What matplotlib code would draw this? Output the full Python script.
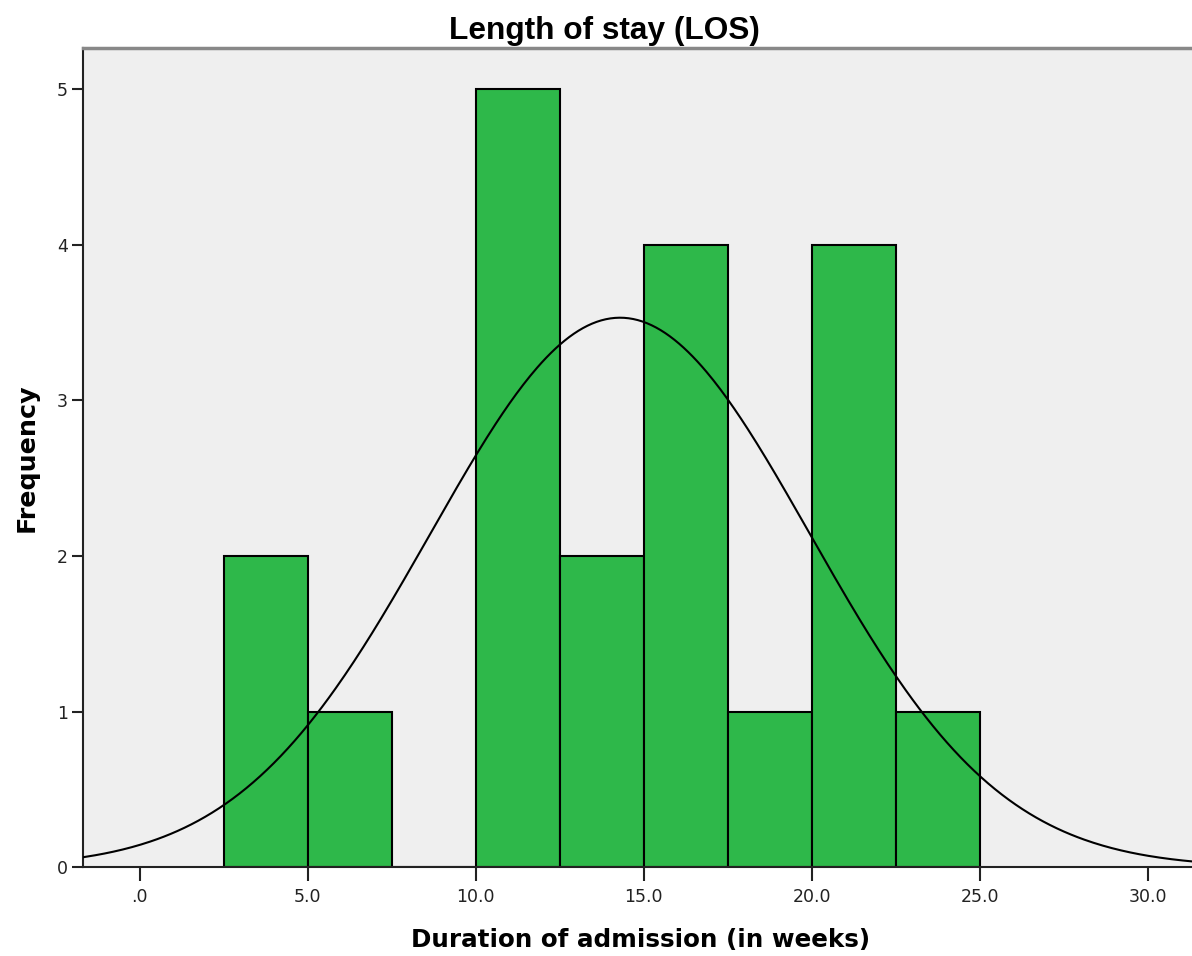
import numpy as np
import matplotlib.pyplot as plt

# histogram of LOS, bin width 2.5 weeks
bin_edges = [2.5, 5.0, 7.5, 10.0, 12.5, 15.0, 17.5, 20.0, 22.5, 25.0]
counts = [2, 1, 0, 5, 2, 4, 1, 4, 1]
n_total = 20
los_mean = 14.3
los_sd = 5.65

x_ticks = [0, 5, 10, 15, 20, 25, 30]
x_ticklabels = ['.0', '5.0', '10.0', '15.0', '20.0', '25.0', '30.0']
y_ticks = [0, 1, 2, 3, 4, 5]

fig = plt.figure(figsize=(11.92, 9.56), dpi=100)
ax = fig.add_axes([0.070, 0.0928, 0.935, 0.8565])
ax.set_facecolor('#efefef')

widths = np.diff(bin_edges)
ax.bar(bin_edges[:-1], counts, width=widths, align='edge',
       color='#2eb84a', edgecolor='black', linewidth=1.5, zorder=2)

# normal curve scaled to counts
xs = np.linspace(-2, 32, 500)
bw = widths[0]
ys = n_total * bw / (los_sd * np.sqrt(2 * np.pi)) * np.exp(-0.5 * ((xs - los_mean) / los_sd) ** 2)
ax.plot(xs, ys, color='black', linewidth=1.5, zorder=3)

ax.set_xlim(-1.67, 31.5)
ax.set_ylim(0, 5.26)
ax.set_xticks(x_ticks)
ax.set_xticklabels(x_ticklabels)
ax.set_yticks(y_ticks)
ax.tick_params(axis='both', direction='out', labelsize=12.5, colors='#222222', width=1.5)
ax.tick_params(axis='x', length=10, pad=5)
ax.tick_params(axis='y', length=8, pad=3)

for s in ['left', 'bottom']:
    ax.spines[s].set_linewidth(1.5)
    ax.spines[s].set_color('#222222')
ax.spines['top'].set_color('#888888')
ax.spines['top'].set_linewidth(2.5)
ax.spines['right'].set_visible(False)

fig.text(0.507, 0.968, 'Length of stay (LOS)', fontsize=22.8, fontweight='bold',
         family='Liberation Sans', ha='center', va='center')
ax.set_xlabel('Duration of admission (in weeks)', fontsize=17.7, fontweight='bold', labelpad=16)
ax.set_ylabel('Frequency', fontsize=18.3, fontweight='bold', labelpad=13)

fig.savefig('out.png', dpi=100)
